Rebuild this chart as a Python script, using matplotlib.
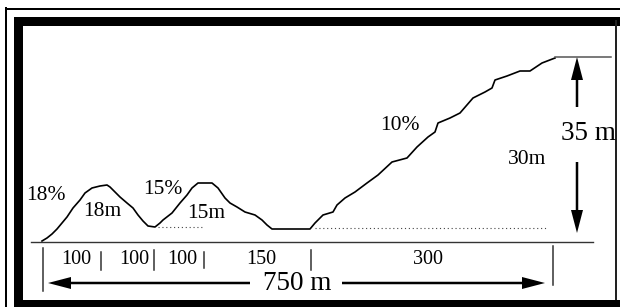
import numpy as np
import matplotlib.pyplot as plt
from matplotlib.patches import Rectangle

# ----------------------------
# 数据（示意图单位：横向按图面距离，纵向为基线以上高度）
# ----------------------------
profile_x = [42, 47, 52, 57, 62, 67, 73, 80, 85, 92, 100, 107, 110, 115, 120, 127, 133, 138,
             143, 148, 155, 160, 163, 172, 180, 187, 192, 198, 212, 218, 225, 230, 237, 245,
             255, 262, 267, 272, 310, 315, 323, 333, 337, 345, 355, 367, 378, 392, 407, 417,
             428, 435, 438, 450, 460, 473, 485, 492, 495, 507, 520, 530, 542, 555]
profile_y = [1, 4, 8, 13, 19, 25, 34, 42, 49, 54, 56, 57, 55, 50, 45, 39, 34, 27,
             21, 16, 15, 19, 22, 29, 39, 47, 54, 59, 59, 54, 44, 39, 35, 30,
             27, 22, 17, 13, 13, 19, 27, 30, 37, 44, 50, 59, 67, 80, 84, 95,
             105, 110, 119, 124, 129, 144, 150, 154, 162, 166, 171, 171, 179, 184]

summit_x = [555, 611]
summit_y = [185, 185]

# 虚线（坡底参考线）
dotted_lines = [([158, 203], [15, 15]), ([315, 548], [14, 14])]

# 分段刻度
tick_x = [43, 101, 154, 204, 311, 553]
tick_top = [-6, -10, -8, -10, -8, -4]
tick_bot = [-49, -28, -28, -26, -28, -43]

seg_labels = ["100", "100", "100", "150", "300"]
seg_label_x = [76, 134, 182, 261, 428]

# 坡度/高度标注
grade_labels = ["18%", "18m", "15%", "15m", "10%", "30m"]
grade_x = [46, 102, 163, 206, 400, 527]
grade_y = [46, 30, 52, 29, 116, 83]

# ----------------------------
# 画布：一个数据单位约等于一个像素
# ----------------------------
plt.rcParams['font.family'] = ['Liberation Serif', 'DejaVu Serif']

fig = plt.figure(figsize=(6.2, 3.07), dpi=100)
ax = fig.add_axes([0, 0, 1, 1])
ax.set_xlim(0, 620)
ax.set_ylim(-65, 242)
ax.axis('off')

# ----------------------------
# 外框
# ----------------------------
# 细线外框（左、上）
ax.add_patch(Rectangle((5, -65), 2, 300, color='black', lw=0))
ax.add_patch(Rectangle((5, 232), 615, 2, color='black', lw=0))
# 粗框（左、上、下）和右侧细线
ax.add_patch(Rectangle((14, -65), 9, 290, color='black', lw=0))
ax.add_patch(Rectangle((14, 216), 606, 9, color='black', lw=0))
ax.add_patch(Rectangle((14, -65), 606, 7, color='black', lw=0))
ax.add_patch(Rectangle((615, -58), 2, 280, color='#222222', lw=0))

# ----------------------------
# 地形剖面
# ----------------------------
ax.plot([31, 593], [0, 0], color='#333333', lw=1.0)
ax.plot(profile_x, profile_y, color='black', lw=1.2)
ax.plot(summit_x, summit_y, color='#555555', lw=1.1)
for xs, ys in dotted_lines:
    ax.plot(xs, ys, color='#444444', lw=0.8, linestyle=(0, (1, 2.5)))

for x, t, b in zip(tick_x, tick_top, tick_bot):
    ax.plot([x, x], [t, b], color='#333333', lw=1.1)

for lab, x in zip(seg_labels, seg_label_x):
    ax.text(x, -18, lab, ha='center', va='center', fontsize=14.5)

for lab, x, y in zip(grade_labels, grade_x, grade_y):
    ax.text(x, y, lab, ha='center', va='center', fontsize=15.5)

# ----------------------------
# 箭头
# ----------------------------
arrow_kw = dict(width=2.5, head_width=12, head_length=23,
                length_includes_head=True, color='black', lw=0)
ax.arrow(577, 135, 0, 50, **arrow_kw)
ax.arrow(577, 80, 0, -71, **arrow_kw)
ax.arrow(250, -41, -202, 0, **arrow_kw)
ax.arrow(342, -41, 203, 0, **arrow_kw)

ax.text(588, 108, "35 m", ha='center', va='center', fontsize=19.5)
ax.text(297, -42, "750 m", ha='center', va='center', fontsize=19.5)

fig.savefig("out.png", dpi=100)
